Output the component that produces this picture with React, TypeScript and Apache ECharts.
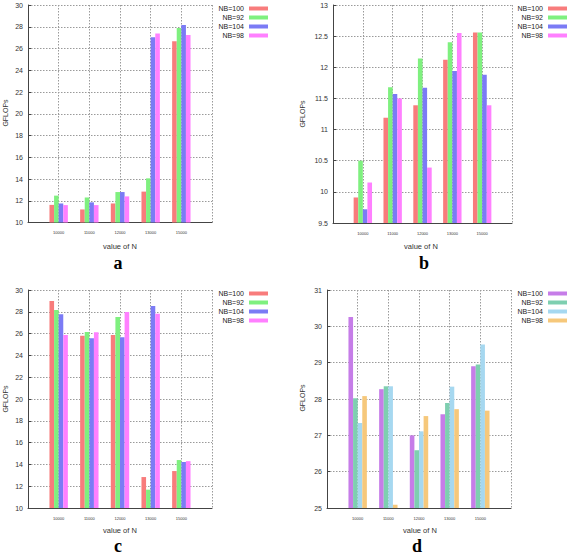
import React, { useEffect, useRef } from "react";
import * as echarts from "echarts";

const categories = ["10000", "11000", "12000", "13000", "15000"];
const nbLabels = ["NB=100", "NB=92", "NB=104", "NB=98"];

// panel a
const aNB100 = [11.62, 11.2, 11.75, 12.84, 26.67];
const aNB92 = [12.47, 12.3, 12.8, 14.06, 27.89];
const aNB104 = [11.75, 11.85, 12.8, 27.04, 28.17];
const aNB98 = [11.6, 11.6, 12.4, 27.37, 27.25];
// panel b
const bNB100 = [9.91, 11.19, 11.39, 12.12, 12.56];
const bNB92 = [10.5, 11.68, 12.14, 12.4, 12.56];
const bNB104 = [9.72, 11.57, 11.67, 11.94, 11.88];
const bNB98 = [10.15, 11.5, 10.39, 12.55, 11.39];
// panel c
const cNB100 = [29.0, 25.81, 25.87, 12.84, 13.39];
const cNB92 = [28.17, 26.15, 27.52, 11.68, 14.4];
const cNB104 = [27.77, 25.57, 25.66, 28.53, 14.22];
const cNB98 = [25.87, 26.12, 27.98, 27.83, 14.3];
// panel d
const dNB100 = [30.26, 28.27, 27.0, 27.58, 28.9];
const dNB92 = [28.02, 28.35, 26.59, 27.89, 28.95];
const dNB104 = [27.34, 28.35, 27.11, 28.34, 29.5];
const dNB98 = [28.08, 25.09, 27.53, 27.72, 27.68];

const yRanges = [
  { min: 10, max: 30, interval: 2 },
  { min: 9.5, max: 13, interval: 0.5 },
  { min: 10, max: 30, interval: 2 },
  { min: 25, max: 31, interval: 1 },
];

const panelIds = ["a", "b", "c", "d"];
const panelData = [
  [aNB100, aNB92, aNB104, aNB98],
  [bNB100, bNB92, bNB104, bNB98],
  [cNB100, cNB92, cNB104, cNB98],
  [dNB100, dNB92, dNB104, dNB98],
];

const colorsRGB = ["#f87c7c", "#7ff07f", "#7b7bf5", "#ff80ff"];
const colorsD = ["#c67de8", "#7ecfb0", "#a6d8f0", "#f6c87b"];

const grids = [
  { left: 28, top: 5, width: 184, height: 217.5 },
  { left: 333, top: 5, width: 179, height: 218 },
  { left: 28, top: 290, width: 184, height: 218 },
  { left: 327, top: 290, width: 184, height: 218 },
];
const legendPos = [
  { right: 300, top: 5 },
  { right: 1, top: 5 },
  { right: 300, top: 290 },
  { right: 1, top: 290 },
];
const yTitles = [
  [5, 113],
  [302, 114],
  [5, 399],
  [302, 398],
];
const xTitles = [
  [120, 246],
  [421, 246],
  [120, 530],
  [420, 530],
];
const letters = [
  [118, 263],
  [424, 263],
  [118, 546],
  [417, 546],
];

const FONT = "'Liberation Sans', Arial, sans-serif";

export default function App() {
  const ref = useRef<HTMLDivElement>(null);
  useEffect(() => {
    if (!ref.current) return;
    const chart = echarts.init(ref.current, null, { renderer: "svg" });
    const xCats = ["", ...categories, ""];
    const xAxis: any[] = [];
    const yAxis: any[] = [];
    const series: any[] = [];
    const legend: any[] = [];
    const graphic: any[] = [];
    const gridLine = { show: true, lineStyle: { color: "#9a9a9a", type: [1.5, 1.5], width: 1 } };
    panelIds.forEach((p, i) => {
      xAxis.push({
        type: "category",
        gridIndex: i,
        data: xCats,
        boundaryGap: false,
        axisLine: { lineStyle: { color: "#444", width: 1 } },
        axisTick: { show: false },
        axisLabel: { fontSize: 4, color: "#333", margin: 8, fontFamily: FONT, interval: 0 },
        splitLine: gridLine,
      });
      yAxis.push({
        type: "value",
        gridIndex: i,
        min: yRanges[i].min,
        max: yRanges[i].max,
        interval: yRanges[i].interval,
        axisLine: { show: true, lineStyle: { color: "#444", width: 1 } },
        axisTick: { show: true, inside: true, length: 3, lineStyle: { color: "#444" } },
        axisLabel: { fontSize: 7, color: "#333", margin: 5, fontFamily: FONT },
        splitLine: gridLine,
      });
      const cols = i === 3 ? colorsD : colorsRGB;
      nbLabels.forEach((nb, k) => {
        series.push({
          type: "bar",
          name: `${p}:${nb}`,
          xAxisIndex: i,
          yAxisIndex: i,
          data: ["-", ...panelData[i][k], "-"],
          barWidth: 4.6,
          barGap: "0%",
          itemStyle: { color: cols[k] },
        });
      });
      legend.push({
        orient: "vertical",
        ...legendPos[i],
        padding: 0,
        align: "right",
        itemWidth: 19,
        itemHeight: 4,
        itemGap: 2,
        icon: "rect",
        selectedMode: false,
        data: nbLabels.map((nb) => `${p}:${nb}`),
        formatter: (name: string) => name.split(":")[1],
        textStyle: { fontSize: 7, lineHeight: 7, color: "#222", fontFamily: FONT, padding: 0 },
      });
      graphic.push({
        type: "text",
        x: yTitles[i][0],
        y: yTitles[i][1],
        rotation: Math.PI / 2,
        style: { text: "GFLOPs", fontSize: 7, fontFamily: FONT, fill: "#333", align: "center", verticalAlign: "middle" },
      });
      graphic.push({
        type: "text",
        x: xTitles[i][0],
        y: xTitles[i][1],
        style: { text: "value of N", fontSize: 7.5, fontFamily: FONT, fill: "#333", align: "center", verticalAlign: "middle" },
      });
      graphic.push({
        type: "text",
        x: letters[i][0],
        y: letters[i][1],
        style: {
          text: p,
          fontSize: 18,
          fontWeight: "bold",
          fontFamily: "'Liberation Serif', 'Times New Roman', serif",
          fill: "#000",
          align: "center",
          verticalAlign: "middle",
        },
      });
    });
    chart.setOption({
      animation: false,
      backgroundColor: "#fff",
      grid: grids,
      xAxis,
      yAxis,
      series,
      legend,
      graphic,
    });
    return () => chart.dispose();
  }, []);
  return <div ref={ref} style={{ position: "absolute", left: 0, top: 0, width: 568, height: 555 }} />;
}
